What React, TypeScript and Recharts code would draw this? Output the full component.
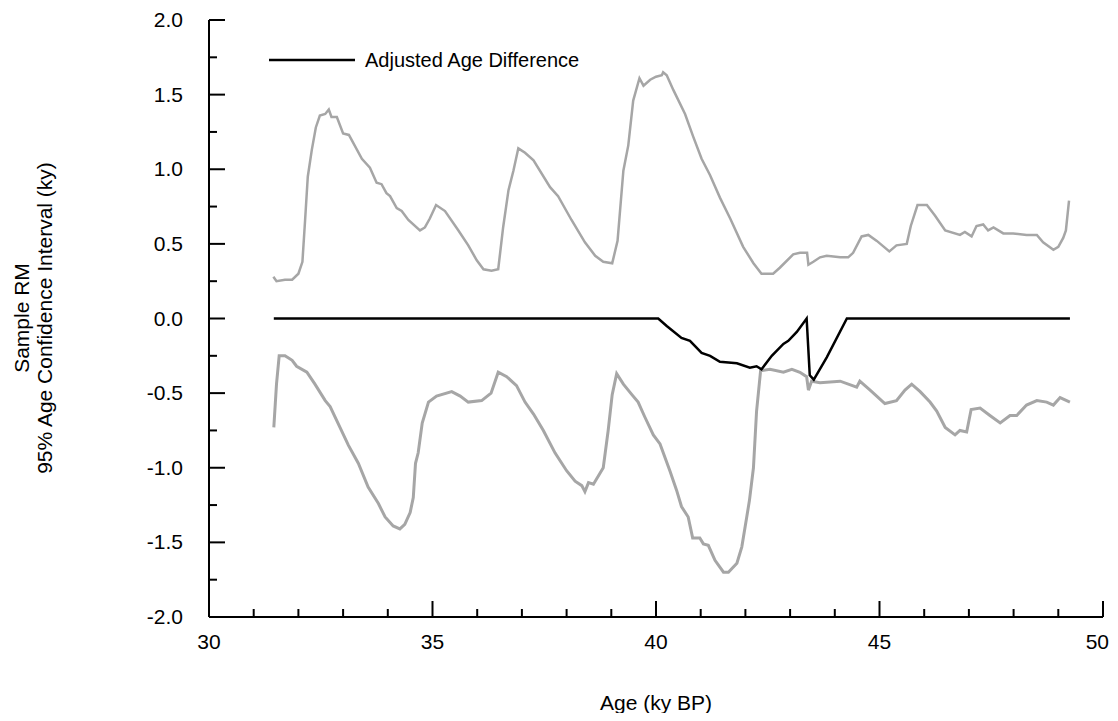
import { LineChart, Line, XAxis, YAxis } from 'recharts'

// [age (ky BP), value (ky)]
const upperBand: [number, number][] = [
  [31.44, 0.28], [31.51, 0.25], [31.7, 0.26], [31.86, 0.26], [32.0, 0.3], [32.09, 0.38],
  [32.15, 0.66], [32.21, 0.95], [32.3, 1.13], [32.39, 1.28], [32.48, 1.36], [32.6, 1.37],
  [32.68, 1.4], [32.74, 1.35], [32.86, 1.35], [33.0, 1.24], [33.13, 1.23], [33.42, 1.07],
  [33.6, 1.01], [33.75, 0.91], [33.86, 0.9], [33.97, 0.84], [34.05, 0.82], [34.2, 0.74],
  [34.31, 0.72], [34.46, 0.66], [34.72, 0.59], [34.83, 0.61], [34.94, 0.67], [35.08, 0.76],
  [35.28, 0.72], [35.58, 0.59], [35.8, 0.49], [35.99, 0.39], [36.14, 0.33], [36.32, 0.32],
  [36.47, 0.33], [36.58, 0.61], [36.7, 0.86], [36.81, 0.99], [36.92, 1.14], [37.07, 1.11],
  [37.26, 1.06], [37.63, 0.88], [37.81, 0.82], [38.11, 0.66], [38.41, 0.51], [38.64, 0.42],
  [38.82, 0.38], [39.02, 0.37], [39.14, 0.52], [39.27, 0.99], [39.38, 1.16], [39.49, 1.46],
  [39.63, 1.61], [39.72, 1.56], [39.87, 1.6], [40.0, 1.62], [40.13, 1.63], [40.16, 1.65],
  [40.24, 1.63], [40.39, 1.53], [40.65, 1.37], [40.83, 1.22], [41.02, 1.07], [41.21, 0.96],
  [41.43, 0.81], [41.66, 0.67], [41.95, 0.48], [42.18, 0.37], [42.36, 0.3], [42.62, 0.3],
  [42.77, 0.34], [43.07, 0.43], [43.22, 0.44], [43.38, 0.44], [43.41, 0.36], [43.52, 0.38],
  [43.67, 0.41], [43.82, 0.42], [44.12, 0.41], [44.3, 0.41], [44.41, 0.44], [44.6, 0.55],
  [44.75, 0.56], [44.94, 0.52], [45.22, 0.45], [45.38, 0.49], [45.61, 0.5], [45.7, 0.62],
  [45.85, 0.76], [46.06, 0.76], [46.24, 0.69], [46.47, 0.59], [46.8, 0.56], [46.91, 0.58],
  [47.06, 0.55], [47.17, 0.62], [47.32, 0.63], [47.43, 0.59], [47.55, 0.61], [47.77, 0.57],
  [47.99, 0.57], [48.29, 0.56], [48.52, 0.56], [48.66, 0.51], [48.89, 0.46], [49.0, 0.48],
  [49.11, 0.54], [49.17, 0.59], [49.24, 0.79],
]

const lowerBand: [number, number][] = [
  [31.45, -0.73], [31.51, -0.44], [31.57, -0.25], [31.7, -0.25], [31.86, -0.28], [31.96, -0.32],
  [32.19, -0.36], [32.37, -0.44], [32.6, -0.55], [32.71, -0.59], [32.93, -0.73], [33.12, -0.85],
  [33.34, -0.97], [33.56, -1.13], [33.79, -1.24], [33.94, -1.33], [34.12, -1.39], [34.27, -1.41],
  [34.38, -1.38], [34.5, -1.3], [34.57, -1.2], [34.62, -0.97], [34.68, -0.9], [34.77, -0.7],
  [34.91, -0.56], [35.09, -0.52], [35.43, -0.49], [35.62, -0.52], [35.8, -0.56], [36.1, -0.55],
  [36.31, -0.5], [36.47, -0.36], [36.66, -0.39], [36.88, -0.45], [37.07, -0.56], [37.26, -0.64],
  [37.48, -0.75], [37.74, -0.9], [38.0, -1.02], [38.19, -1.09], [38.34, -1.12], [38.41, -1.16],
  [38.49, -1.1], [38.6, -1.11], [38.82, -1.0], [38.93, -0.75], [39.02, -0.51], [39.12, -0.37],
  [39.27, -0.44], [39.46, -0.51], [39.6, -0.56], [39.75, -0.66], [39.94, -0.78], [40.09, -0.84],
  [40.31, -1.02], [40.46, -1.15], [40.57, -1.26], [40.72, -1.33], [40.82, -1.47], [40.98, -1.47],
  [41.06, -1.51], [41.17, -1.52], [41.32, -1.62], [41.51, -1.7], [41.62, -1.7], [41.81, -1.64],
  [41.92, -1.53], [42.03, -1.33], [42.09, -1.22], [42.18, -1.0], [42.25, -0.62], [42.34, -0.35],
  [42.55, -0.34], [42.85, -0.36], [43.04, -0.34], [43.22, -0.36], [43.37, -0.39], [43.41, -0.48],
  [43.48, -0.42], [43.67, -0.43], [44.12, -0.42], [44.49, -0.46], [44.56, -0.42], [44.79, -0.48],
  [45.12, -0.57], [45.38, -0.55], [45.57, -0.48], [45.72, -0.44], [45.91, -0.49], [46.13, -0.56],
  [46.28, -0.62], [46.47, -0.73], [46.69, -0.78], [46.8, -0.75], [46.95, -0.76], [47.05, -0.61],
  [47.25, -0.6], [47.47, -0.65], [47.7, -0.7], [47.92, -0.65], [48.07, -0.65], [48.29, -0.58],
  [48.52, -0.55], [48.74, -0.56], [48.89, -0.58], [49.04, -0.53], [49.26, -0.56],
]

const adjustedDiff: [number, number][] = [
  [31.45, 0], [40.05, 0], [40.24, -0.05], [40.57, -0.13], [40.76, -0.15], [41.02, -0.23],
  [41.21, -0.25], [41.43, -0.29], [41.81, -0.3], [42.1, -0.33], [42.25, -0.32], [42.36, -0.34],
  [42.59, -0.25], [42.85, -0.17], [42.96, -0.15], [43.15, -0.09], [43.37, 0], [43.44, -0.38],
  [43.53, -0.41], [43.82, -0.26], [44.27, 0], [49.26, 0],
]

const xTicks = [30, 31, 32, 33, 34, 35, 36, 37, 38, 39, 40, 41, 42, 43, 44, 45, 46, 47, 48, 49, 50]
const yTicks = [-2, -1.75, -1.5, -1.25, -1, -0.75, -0.5, -0.25, 0, 0.25, 0.5, 0.75, 1, 1.25, 1.5, 1.75, 2]

const toPoints = (rows: [number, number][]) => rows.map(([x, y]) => ({ x, y }))

const FONT = '"Liberation Sans", Arial, sans-serif'
const GRAY = '#a6a6a6'
const W = 1102
const H = 705

function YTick({ x, y, payload }: any) {
  const v = payload.value as number
  const major = Math.abs(v * 2 - Math.round(v * 2)) < 1e-6
  return (
    <g>
      <line x1={x} y1={y} x2={x + (major ? 16 : 8)} y2={y} stroke="#000" strokeWidth={2} />
      {major && (
        <text x={x - 26} y={y + 7} textAnchor="end" fontSize={21} fontFamily={FONT} fill="#000">
          {v.toFixed(1)}
        </text>
      )}
    </g>
  )
}

function XTick({ x, y, payload }: any) {
  const v = payload.value as number
  const major = v % 5 === 0
  // the last label sits against the page edge, keep it inside
  const last = v === xTicks[xTicks.length - 1]
  return (
    <g>
      <line x1={x} y1={y} x2={x} y2={y - (major ? 16 : 8)} stroke="#000" strokeWidth={2} />
      {major && (
        <text
          x={last ? x + 6 : x}
          y={y + 32}
          textAnchor={last ? 'end' : 'middle'}
          fontSize={21}
          fontFamily={FONT}
          fill="#000"
        >
          {v}
        </text>
      )}
    </g>
  )
}

export default function App() {
  return (
    <div style={{ position: 'relative', width: W, height: H, fontFamily: FONT }}>
      <LineChart width={W} height={H} margin={{ top: 12, right: 7, bottom: 56, left: 0 }}>
        <XAxis
          dataKey="x"
          type="number"
          domain={[30, 50]}
          ticks={xTicks}
          interval={0}
          tick={<XTick />}
          tickLine={false}
          tickSize={0}
          tickMargin={0}
          height={40}
          axisLine={{ stroke: '#000', strokeWidth: 2 }}
          allowDataOverflow
        />
        <YAxis
          type="number"
          domain={[-2, 2]}
          ticks={yTicks}
          interval={0}
          tick={<YTick />}
          tickLine={false}
          tickSize={0}
          tickMargin={0}
          width={201}
          axisLine={{ stroke: '#000', strokeWidth: 2 }}
          allowDataOverflow
        />
        <Line
          data={toPoints(upperBand)}
          dataKey="y"
          type="linear"
          stroke={GRAY}
          strokeWidth={2.5}
          dot={false}
          activeDot={false}
          isAnimationActive={false}
        />
        <Line
          data={toPoints(lowerBand)}
          dataKey="y"
          type="linear"
          stroke={GRAY}
          strokeWidth={3}
          dot={false}
          activeDot={false}
          isAnimationActive={false}
        />
        <Line
          data={toPoints(adjustedDiff)}
          dataKey="y"
          type="linear"
          stroke="#000"
          strokeWidth={2.5}
          dot={false}
          activeDot={false}
          isAnimationActive={false}
        />
      </LineChart>
      {/* legend and axis titles */}
      <svg
        width={W}
        height={H}
        style={{ position: 'absolute', left: 0, top: 0, pointerEvents: 'none', overflow: 'visible' }}
      >
        <line x1={261} y1={52} x2={347} y2={52} stroke="#000" strokeWidth={2.5} />
        <text x={357} y={59} fontSize={20} fontFamily={FONT} fill="#000">
          Adjusted Age Difference
        </text>
        <text x={21} y={310} transform="rotate(-90 21 310)" textAnchor="middle" fontSize={21} fontFamily={FONT} fill="#000">
          Sample RM
        </text>
        <text x={44} y={310} transform="rotate(-90 44 310)" textAnchor="middle" fontSize={21} fontFamily={FONT} fill="#000">
          95% Age Confidence Interval (ky)
        </text>
        <text x={648} y={702} textAnchor="middle" fontSize={21} fontFamily={FONT} fill="#000">
          Age (ky BP)
        </text>
      </svg>
    </div>
  )
}
